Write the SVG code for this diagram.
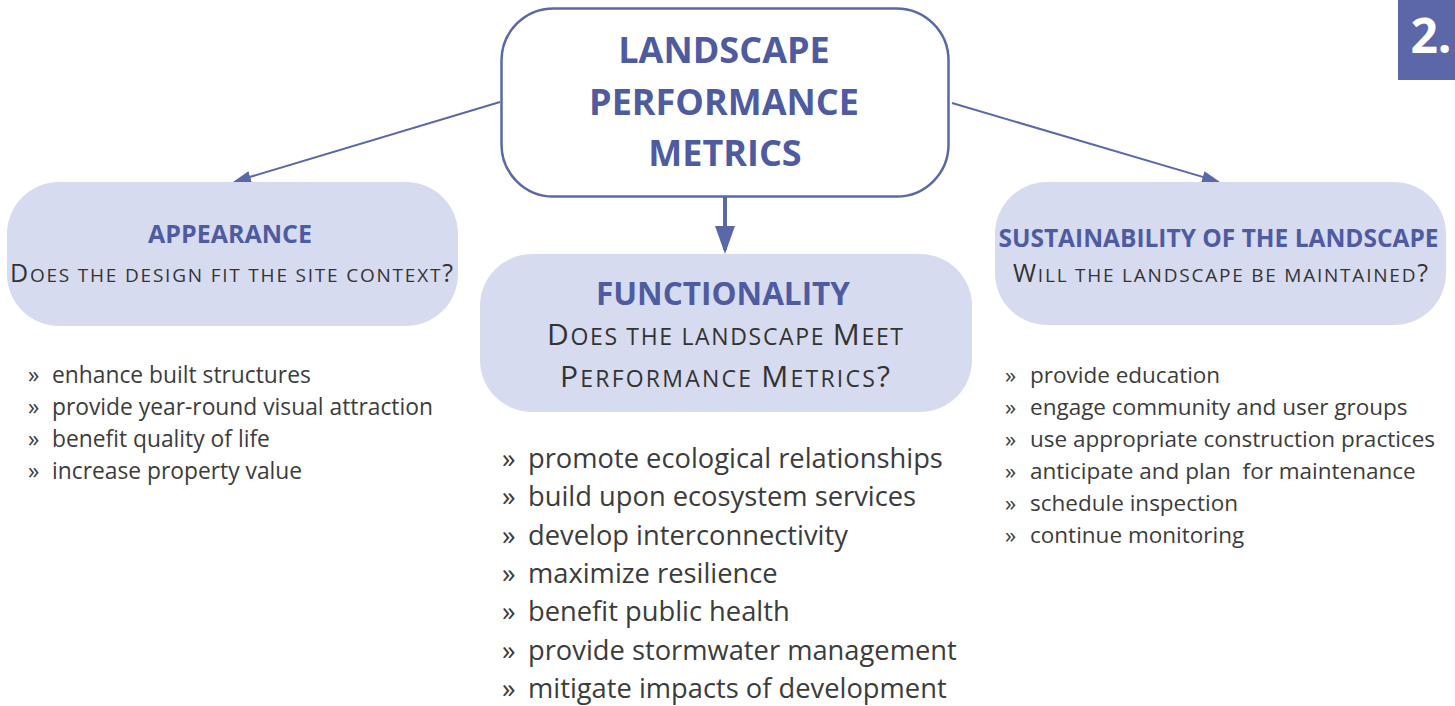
<svg xmlns="http://www.w3.org/2000/svg" width="1455" height="706" viewBox="0 0 1455 706">
<style>
  .title { font-family: "Open Sans", "Liberation Sans", sans-serif; font-weight: 700; fill: #4f5ba1; text-anchor: middle; }
  .sub { font-family: "Open Sans", "Liberation Sans", sans-serif; fill: #333333; text-anchor: middle; }
  .item { font-family: "Open Sans", "Liberation Sans", sans-serif; fill: #3c3c3c; white-space: pre; }
  .box { fill: #d7dbef; stroke: none; }
  .conn { stroke: #5a68a8; fill: none; }
</style>
<defs>
  <marker id="headThin" markerUnits="userSpaceOnUse" markerWidth="18" markerHeight="12" refX="14" refY="6" orient="auto">
    <path d="M0,0 L18,6 L0,12 z" fill="#5a68a8"/>
  </marker>
  <marker id="headThick" markerUnits="userSpaceOnUse" markerWidth="28" markerHeight="20" refX="24" refY="10" orient="auto">
    <path d="M0,0 L28,10 L0,20 z" fill="#5a68a8"/>
  </marker>
</defs>
<rect width="1455" height="706" fill="#ffffff"/>

<g id="connectors">
  <line class="conn" x1="500" y1="102" x2="236.8" y2="180.9" stroke-width="2" marker-end="url(#headThin)"/>
  <line class="conn" x1="952" y1="103" x2="1216.2" y2="180.9" stroke-width="2" marker-end="url(#headThin)"/>
  <line class="conn" x1="725" y1="197" x2="725" y2="250" stroke-width="4" marker-end="url(#headThick)"/>
</g>

<g id="node-main">
  <rect x="501.5" y="8.5" width="447" height="188" rx="52" fill="#ffffff" stroke="#5a68a8" stroke-width="2.5"/>
  <text class="title" x="724" y="63" font-size="36">LANDSCAPE</text>
  <text class="title" x="724" y="115" font-size="36">PERFORMANCE</text>
  <text class="title" x="725" y="166" font-size="36">METRICS</text>
</g>

<g id="node-number">
  <rect x="1398" y="0" width="57" height="80" fill="#5b67a8"/>
  <text x="1431" y="53" font-family="'Open Sans', 'Liberation Sans', sans-serif" font-weight="700" font-size="48" fill="#ffffff" text-anchor="middle">2.</text>
</g>

<g id="node-appearance">
  <rect class="box" x="7" y="182" width="451" height="144" rx="52"/>
  <text class="title" x="230" y="243" font-size="25">APPEARANCE</text>
  <text class="sub" x="231.5" y="282" font-size="19" textLength="443" lengthAdjust="spacing"><tspan font-size="25">D</tspan>OES THE DESIGN FIT THE SITE CONTEXT<tspan font-size="25">?</tspan></text>
</g>

<g id="node-functionality">
  <rect class="box" x="480" y="254" width="492" height="158" rx="52"/>
  <text class="title" x="723" y="305" font-size="31.5">FUNCTIONALITY</text>
  <text class="sub" x="725" y="345" font-size="23" textLength="356" lengthAdjust="spacing"><tspan font-size="30">D</tspan>OES THE LANDSCAPE <tspan font-size="30">M</tspan>EET</text>
  <text class="sub" x="725" y="387" font-size="23" textLength="330" lengthAdjust="spacing"><tspan font-size="30">P</tspan>ERFORMANCE <tspan font-size="30">M</tspan>ETRICS<tspan font-size="30">?</tspan></text>
</g>

<g id="node-sustainability">
  <rect class="box" x="995" y="182" width="451" height="143" rx="52"/>
  <text class="title" x="1218.5" y="247" font-size="24.5">SUSTAINABILITY OF THE LANDSCAPE</text>
  <text class="sub" x="1220.5" y="282" font-size="19" textLength="415" lengthAdjust="spacing"><tspan font-size="25">W</tspan>ILL THE LANDSCAPE BE MAINTAINED<tspan font-size="25">?</tspan></text>
</g>

<g id="list-appearance" font-size="22.8">
  <text class="item" x="28" y="383">»</text><text class="item" x="52" y="383">enhance built structures</text>
  <text class="item" x="28" y="415">»</text><text class="item" x="52" y="415">provide year-round visual attraction</text>
  <text class="item" x="28" y="447">»</text><text class="item" x="52" y="447">benefit quality of life</text>
  <text class="item" x="28" y="479">»</text><text class="item" x="52" y="479">increase property value</text>
</g>

<g id="list-functionality" font-size="27.3">
  <text class="item" x="502" y="468">»</text><text class="item" x="528" y="468">promote ecological relationships</text>
  <text class="item" x="502" y="506">»</text><text class="item" x="528" y="506">build upon ecosystem services</text>
  <text class="item" x="502" y="545">»</text><text class="item" x="528" y="545">develop interconnectivity</text>
  <text class="item" x="502" y="583">»</text><text class="item" x="528" y="583">maximize resilience</text>
  <text class="item" x="502" y="621">»</text><text class="item" x="528" y="621">benefit public health</text>
  <text class="item" x="502" y="660">»</text><text class="item" x="528" y="660">provide stormwater management</text>
  <text class="item" x="502" y="698">»</text><text class="item" x="528" y="698">mitigate impacts of development</text>
</g>

<g id="list-sustainability" font-size="22.5">
  <text class="item" x="1005" y="383">»</text><text class="item" x="1030" y="383">provide education</text>
  <text class="item" x="1005" y="415">»</text><text class="item" x="1030" y="415">engage community and user groups</text>
  <text class="item" x="1005" y="447">»</text><text class="item" x="1030" y="447">use appropriate construction practices</text>
  <text class="item" x="1005" y="479">»</text><text class="item" x="1030" y="479">anticipate and plan  for maintenance</text>
  <text class="item" x="1005" y="511">»</text><text class="item" x="1030" y="511">schedule inspection</text>
  <text class="item" x="1005" y="543">»</text><text class="item" x="1030" y="543">continue monitoring</text>
</g>
</svg>
